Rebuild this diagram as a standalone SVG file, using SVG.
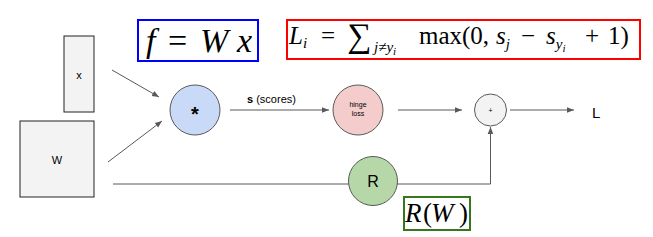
<svg xmlns="http://www.w3.org/2000/svg" width="653" height="237" viewBox="0 0 653 237">
<style>
.box{fill:#f3f3f3;stroke:#222;stroke-width:1}
.lbl{font-family:"Liberation Sans",Arial,sans-serif;fill:#000}
.math{font-family:"Liberation Serif","Times New Roman",serif;fill:#000}
.it{font-style:italic}
.up{font-style:normal}
.edge{fill:none;stroke:#595959;stroke-width:1}
.node{stroke:#595959;stroke-width:1}
</style>
<defs>
<marker id="ah" viewBox="0 0 10 10" refX="10" refY="5" markerWidth="7" markerHeight="7" markerUnits="userSpaceOnUse" orient="auto">
<path d="M0,1 L10,5 L0,9 z" fill="#595959"/>
</marker>
</defs>
<rect width="653" height="237" fill="#fff"/>
<g id="eq-f">
<rect x="138" y="20" width="120" height="41" fill="#fff" stroke="#0000ff" stroke-width="2"/>
<text class="math it" font-size="34" y="52"><tspan x="146">f</tspan><tspan x="168" class="up">=</tspan><tspan x="200">W</tspan><tspan x="237">x</tspan></text>
</g>
<g id="eq-L">
<rect x="287" y="20" width="353" height="39" fill="#fff" stroke="#ff0000" stroke-width="2"/>
<text class="math" font-size="25" y="44"><tspan x="289" class="it">L</tspan><tspan class="it" font-size="15" dy="4">i</tspan><tspan x="321" dy="-4">=</tspan><tspan x="347" font-size="34" dy="3">∑</tspan><tspan x="374" class="it" font-size="15" dy="5">j≠y</tspan><tspan class="it" font-size="11" dy="3">i</tspan><tspan x="419" dy="-11">max(0,</tspan><tspan x="496" class="it">s</tspan><tspan class="it" font-size="15" dy="5">j</tspan><tspan x="521" dy="-5">−</tspan><tspan x="546" class="it">s</tspan><tspan class="it" font-size="15" dy="5">y</tspan><tspan class="it" font-size="11" dy="3">i</tspan><tspan x="585" dy="-8">+</tspan><tspan x="608">1)</tspan></text>
</g>
<g id="eq-R">
<rect x="404" y="197" width="66" height="33" fill="#fff" stroke="#38761d" stroke-width="2"/>
<text class="math it" font-size="27" y="222"><tspan x="405">R</tspan><tspan x="423" class="up">(</tspan><tspan x="431">W</tspan><tspan x="459" class="up">)</tspan></text>
</g>
<g id="connectors">
<line class="edge" x1="112" y1="70" x2="159" y2="97" marker-end="url(#ah)"/>
<line class="edge" x1="108" y1="162" x2="162" y2="121" marker-end="url(#ah)"/>
<line class="edge" x1="230" y1="110" x2="329" y2="110" marker-end="url(#ah)"/>
<line class="edge" x1="398" y1="110" x2="462" y2="110" marker-end="url(#ah)"/>
<line class="edge" x1="510" y1="110" x2="574" y2="110" marker-end="url(#ah)"/>
<line class="edge" x1="113" y1="184" x2="349" y2="184"/>
<polyline class="edge" points="397,184 490.5,184 490.5,127" marker-end="url(#ah)"/>
<text class="lbl" font-size="11" x="247" y="103"><tspan font-weight="bold">s</tspan> (scores)</text>
</g>
<g id="node-x">
<rect class="box" x="64" y="36" width="30" height="76"/>
<text class="lbl" font-size="11" x="79" y="79" text-anchor="middle">x</text>
</g>
<g id="node-W">
<rect class="box" x="20" y="121" width="74" height="76"/>
<text class="lbl" font-size="11" x="57" y="164" text-anchor="middle">W</text>
</g>
<g id="node-mul">
<circle class="node" cx="195" cy="110" r="25" fill="#c9daf8"/>
<text class="lbl" font-size="20" font-weight="bold" x="195" y="121" text-anchor="middle">*</text>
</g>
<g id="node-hinge">
<circle class="node" cx="358" cy="110" r="25" fill="#f4cccc"/>
<text class="lbl" font-size="7" text-anchor="middle"><tspan x="358" y="107">hinge</tspan><tspan x="358" y="116">loss</tspan></text>
</g>
<g id="node-plus">
<circle class="node" cx="490.5" cy="110" r="16" fill="#f3f3f3"/>
<text class="lbl" font-size="7" x="490.5" y="112.5" text-anchor="middle">+</text>
</g>
<g id="node-R">
<circle class="node" cx="373" cy="181" r="24.5" fill="#b6d7a8"/>
<text class="lbl" font-size="16" x="373" y="187" text-anchor="middle">R</text>
</g>
<g id="node-L">
<text class="lbl" font-size="15" x="592" y="118">L</text>
</g>
</svg>
